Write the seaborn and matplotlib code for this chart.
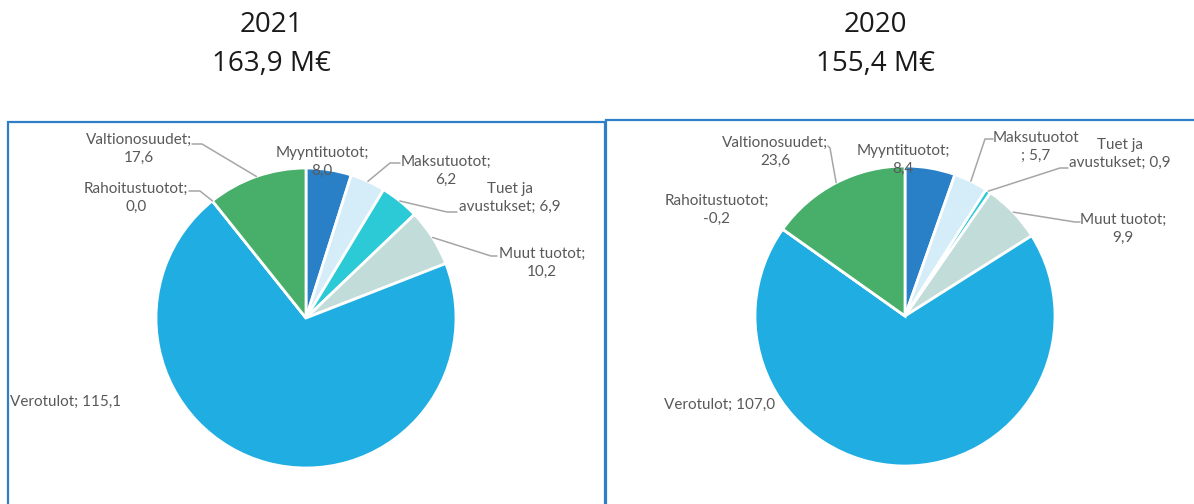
import numpy as np
import matplotlib.pyplot as plt
from matplotlib.patches import Rectangle
import seaborn as sns

sns.set_theme(style="white")
plt.rcParams["font.family"] = ["Lato", "DejaVu Sans"]

# data
categories = ["Myyntituotot", "Maksutuotot", "Tuet ja avustukset", "Muut tuotot",
              "Verotulot", "Rahoitustuotot", "Valtionosuudet"]
values_2021 = [8.0, 6.2, 6.9, 10.2, 115.1, 0.0, 17.6]
values_2020 = [8.4, 5.7, 0.9, 9.9, 107.0, -0.2, 23.6]
years = ["2021", "2020"]
totals = ["163,9 M€", "155,4 M€"]

colors = sns.color_palette(["#2A80C6", "#D4EDF8", "#2CCAD7", "#C2DCDA",
                            "#1FADE2", "#1FADE2", "#47AF6A"])
label_color = "#595959"
line_color = "#A6A6A6"
box_color = "#2F7EC8"

W, H, R = 1194, 504, 150.0

# label text templates (line breaks as in the original)
label_fmt_2021 = ["Myyntituotot;\n{}", "Maksutuotot;\n{}", "Tuet ja\navustukset; {}",
                  "Muut tuotot;\n{}", "Verotulot; {}", "Rahoitustuotot;\n{}",
                  "Valtionosuudet;\n{}"]
label_fmt_2020 = ["Myyntituotot;\n{}", "Maksutuotot\n; {}", "Tuet ja\navustukset; {}",
                  "Muut tuotot;\n{}", "Verotulot; {}", "Rahoitustuotot;\n{}",
                  "Valtionosuudet;\n{}"]

# layout in pixels: box, pie centre, title centre,
# per label: (label centre, leader start, leader knee) - None = no leader
layouts = [
    dict(box=(8, 122, 605, 520), center=(306, 318), title_x=271,
         fmt=label_fmt_2021,
         labels=[((322, 162), None, None),
                 ((446, 171), (400, 163), (390, 163)),
                 ((510, 198), (457, 212), (447, 212)),
                 ((542, 263), (497, 256), (491, 256)),
                 ((66, 402), None, None),
                 ((136, 198), (189, 191), (200, 191)),
                 ((139, 149), (192, 144), (202, 144))]),
    dict(box=(606, 120, 1210, 520), center=(905, 316), title_x=875,
         fmt=label_fmt_2020,
         labels=[((903, 160), None, None),
                 ((1036, 147), (993, 139), (985, 139)),
                 ((1120, 154), (1068, 168), (1060, 168)),
                 ((1123, 229), (1080, 222), (1075, 222)),
                 ((720, 405), None, None),
                 ((717, 210), None, None),
                 ((775, 152), (828, 146), (830, 148))]),
]

fig = plt.figure(figsize=(W / 100, H / 100), dpi=100)

for vals, year, total, lay in zip([values_2021, values_2020], years, totals, layouts):
    x0, y0, x1, y1 = lay["box"]
    cx, cy = lay["center"]
    # chart box border
    fig.patches.append(Rectangle((x0 / W, 1 - y1 / H), (x1 - x0) / W, (y1 - y0) / H,
                                 transform=fig.transFigure, fill=False,
                                 edgecolor=box_color, linewidth=1.6))
    ax = fig.add_axes([x0 / W, 1 - y1 / H, (x1 - x0) / W, (y1 - y0) / H])

    sizes = [max(v, 0) for v in vals]
    wedges, _ = ax.pie(sizes, colors=colors, startangle=90, counterclock=False,
                       radius=1.0, wedgeprops=dict(edgecolor="white", linewidth=2))
    ax.set_xlim((x0 - cx) / R, (x1 - cx) / R)
    ax.set_ylim((cy - y1) / R, (cy - y0) / R)
    ax.set_aspect("equal")
    ax.axis("off")

    def px(p):
        return (p[0] - cx) / R, (cy - p[1]) / R

    for w, v, fmt, (pos, start, knee) in zip(wedges, vals, lay["fmt"], lay["labels"]):
        txt = fmt.format(f"{v:.1f}".replace(".", ","))
        lx, ly = px(pos)
        ax.text(lx, ly, txt, ha="center", va="center", fontsize=11,
                color=label_color, linespacing=1.3, zorder=5)
        if start is not None:
            mid = np.deg2rad((w.theta1 + w.theta2) / 2)
            ex, ey = np.cos(mid), np.sin(mid)
            (sx, sy), (kx, ky) = px(start), px(knee)
            ax.plot([sx, kx, ex], [sy, ky, ey], color=line_color, lw=1.1, zorder=4)

    fig.text(lay["title_x"] / W, 1 - 25 / H, year, ha="center", va="center",
             fontsize=20, family=["Open Sans", "DejaVu Sans"], color="#1a1a1a")
    fig.text(lay["title_x"] / W, 1 - 64 / H, total, ha="center", va="center",
             fontsize=20, family=["Open Sans", "DejaVu Sans"], color="#1a1a1a")

fig.savefig("out.png", dpi=100)
